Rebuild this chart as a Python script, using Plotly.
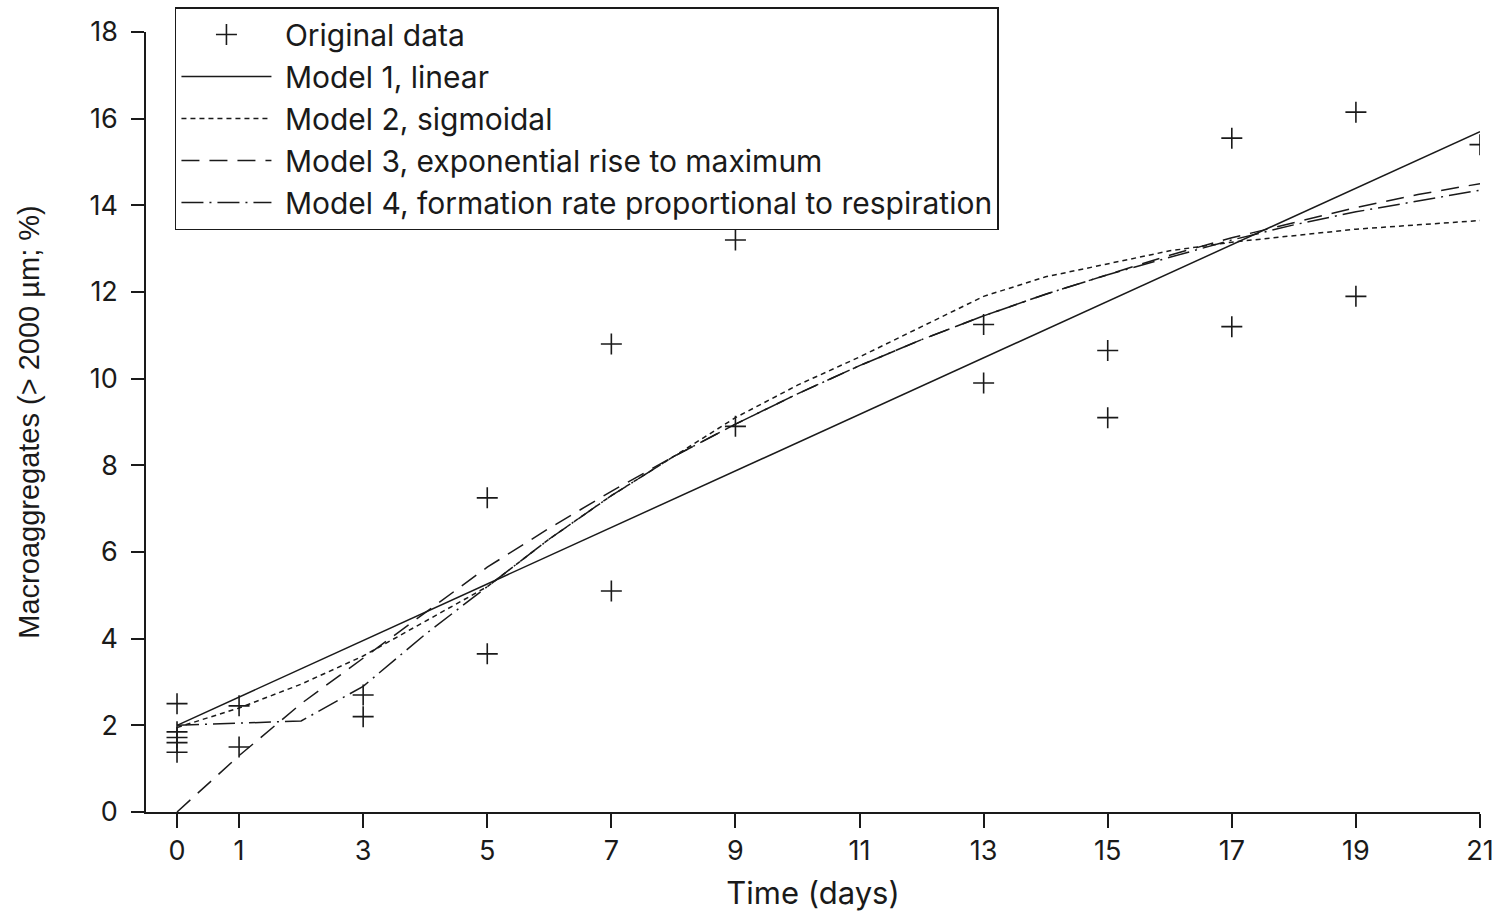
import plotly.graph_objects as go

# ---- data ----
obs_days = [0, 0, 0, 0, 0, 1, 1, 3, 3, 5, 5, 7, 7, 9, 9, 13, 13, 15, 15, 17, 17, 19, 19, 21]
obs_macro = [2.5, 1.85, 1.72, 1.6, 1.38, 2.45, 1.5, 2.7, 2.2, 7.25, 3.65, 10.8, 5.1, 13.2, 8.9,
             11.25, 9.9, 10.65, 9.1, 15.55, 11.2, 16.15, 11.9, 15.4]

lin_days = [0, 21]
model1 = [2.0, 15.7]

model_days = list(range(0, 22))
model2 = [1.95, 2.4, 2.95, 3.6, 4.4, 5.2, 6.3, 7.3, 8.2, 9.1, 9.85, 10.5, 11.2, 11.9,
          12.35, 12.65, 12.95, 13.15, 13.3, 13.45, 13.55, 13.65]
model3 = [0.0, 1.3, 2.5, 3.55, 4.6, 5.65, 6.55, 7.4, 8.2, 8.95, 9.65, 10.3, 10.9, 11.45,
          11.95, 12.4, 12.85, 13.25, 13.6, 13.95, 14.25, 14.5]
model4 = [2.0, 2.05, 2.1, 2.9, 4.1, 5.2, 6.3, 7.3, 8.2, 8.95, 9.65, 10.3, 10.9, 11.45,
          11.95, 12.4, 12.8, 13.2, 13.55, 13.85, 14.1, 14.35]

x_ticks = [0, 1, 3, 5, 7, 9, 11, 13, 15, 17, 19, 21]
y_ticks = [0, 2, 4, 6, 8, 10, 12, 14, 16, 18]

INK = "#1a1a1a"
FONT = "Inter, Liberation Sans, Arial, sans-serif"
YFONT = "Liberation Sans, Arial, sans-serif"
PAD = "\u00a0"

fig = go.Figure()
fig.add_trace(go.Scatter(
    x=obs_days, y=obs_macro, mode="markers", name=PAD + "Original data",
    marker=dict(symbol="cross-thin", size=15, line=dict(width=1.6, color=INK), color=INK)))
fig.add_trace(go.Scatter(
    x=lin_days, y=model1, mode="lines", name=PAD + "Model 1, linear",
    line=dict(color=INK, width=1.5)))
fig.add_trace(go.Scatter(
    x=model_days, y=model2, mode="lines", name=PAD + "Model 2, sigmoidal",
    line=dict(color=INK, width=1.5, dash="5px,4px")))
fig.add_trace(go.Scatter(
    x=model_days, y=model3, mode="lines", name=PAD + "Model 3, exponential rise to maximum",
    line=dict(color=INK, width=1.5, dash="18px,10px")))
fig.add_trace(go.Scatter(
    x=model_days, y=model4, mode="lines",
    name=PAD + "Model 4, formation rate proportional to respiration",
    line=dict(color=INK, width=1.5, dash="22px,6px,2px,6px")))

fig.update_layout(
    width=1508, height=912,
    margin=dict(l=146, r=28, t=32, b=100, autoexpand=False),
    paper_bgcolor="white", plot_bgcolor="white",
    font=dict(family=FONT, color=INK, size=26),
    showlegend=True,
    legend=dict(
        x=0.0217, y=1.032, xanchor="left", yanchor="top",
        bordercolor=INK, borderwidth=1.5, bgcolor="rgba(255,255,255,0)",
        font=dict(family=FONT, size=30, color=INK),
        itemwidth=90, tracegroupgap=0,
    ),
    xaxis=dict(
        range=[-0.5, 21], tickmode="array", tickvals=x_ticks,
        ticktext=[str(v) for v in x_ticks],
        showgrid=False, zeroline=False, showline=True, linecolor=INK, linewidth=1.5,
        ticks="outside", ticklen=14, tickwidth=1.5, tickcolor=INK,
        tickfont=dict(size=27, family=FONT, color=INK),
        title=dict(text="Time (days)", font=dict(size=31, family=FONT, color=INK), standoff=16),
        automargin=False,
    ),
    yaxis=dict(
        range=[0, 18], tickmode="array", tickvals=y_ticks,
        ticktext=[str(v) for v in y_ticks],
        showgrid=False, zeroline=False, showline=True, linecolor=INK, linewidth=1.5,
        ticks="outside", ticklen=13, tickwidth=1.5, tickcolor=INK,
        tickfont=dict(size=27, family=FONT, color=INK), ticklabelstandoff=8,
        title=dict(text="Macroaggregates (> 2000 µm; %)",
                   font=dict(size=29, family=YFONT, color=INK), standoff=41),
        automargin=False,
    ),
)

fig.write_html("out.html")
